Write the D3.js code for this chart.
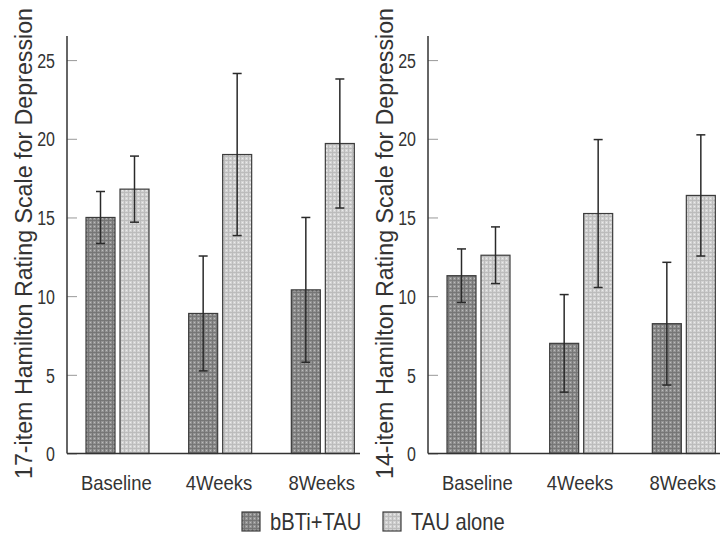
<!DOCTYPE html>
<html><head><meta charset="utf-8">
<script src="https://cdn.jsdelivr.net/npm/d3@7"></script>
<style>
html,body{margin:0;padding:0;background:#fff;}
svg{display:block;}
text{font-family:"Liberation Sans",Arial,sans-serif;fill:#333;}
</style></head>
<body><svg id="c" width="720" height="534"></svg>
<script>
const categories = ["Baseline", "4Weeks", "8Weeks"];
const seriesNames = ["bBTi+TAU", "TAU alone"];
const yTicks = [0, 5, 10, 15, 20, 25];
const panelTitles = ["17-item Hamilton Rating Scale for Depression", "14-item Hamilton Rating Scale for Depression"];
// HAMD-17
const hamd17_bBTi = [15.0, 8.9, 10.4];
const hamd17_bBTi_sd = [1.65, 3.65, 4.6];
const hamd17_TAU = [16.8, 19.0, 19.7];
const hamd17_TAU_sd = [2.1, 5.15, 4.1];
// HAMD-14
const hamd14_bBTi = [11.3, 7.0, 8.25];
const hamd14_bBTi_sd = [1.7, 3.1, 3.9];
const hamd14_TAU = [12.6, 15.25, 16.4];
const hamd14_TAU_sd = [1.8, 4.7, 3.85];

const panels = [
  {title: panelTitles[0], vals: [hamd17_bBTi, hamd17_TAU], sds: [hamd17_bBTi_sd, hamd17_TAU_sd], axisX: 67, lineEnd: 360, titleX: 32},
  {title: panelTitles[1], vals: [hamd14_bBTi, hamd14_TAU], sds: [hamd14_bBTi_sd, hamd14_TAU_sd], axisX: 428, lineEnd: 720, titleX: 393}
];

const svg = d3.select("#c");
const defs = svg.append("defs");
function makePattern(id, base, grid, dot){
  const p = defs.append("pattern").attr("id", id).attr("patternUnits", "userSpaceOnUse").attr("width", 4).attr("height", 4);
  p.append("rect").attr("width", 4).attr("height", 4).attr("fill", base);
  p.append("rect").attr("x", 0).attr("y", 0).attr("width", 1).attr("height", 4).attr("fill", grid);
  p.append("rect").attr("x", 0).attr("y", 0).attr("width", 4).attr("height", 1).attr("fill", grid);
  p.append("rect").attr("x", 2).attr("y", 2).attr("width", 1).attr("height", 1).attr("fill", dot);
}
makePattern("pA", "#939393", "#767676", "#bdbdbd");
makePattern("pB", "#d3d3d3", "#bcbcbc", "#ececec");
const fills = ["url(#pA)", "url(#pB)"];

function narrow(sel, factor){
  sel.each(function(){
    const w = this.getComputedTextLength();
    d3.select(this).attr("textLength", w * factor).attr("lengthAdjust", "spacingAndGlyphs");
  });
}

const yScale = d3.scaleLinear().domain([0, 26.5]).range([453.5, 36.5]);

panels.forEach(pn => {
  const g = svg.append("g");
  const x0 = d3.scaleBand().domain(categories).range([pn.axisX, pn.axisX + 308]).padding(0);
  const x1 = d3.scaleBand().domain(seriesNames).range([19, 82]).paddingInner(0.147).paddingOuter(0);

  categories.forEach((c, ci) => {
    seriesNames.forEach((s, si) => {
      const v = pn.vals[si][ci], sd = pn.sds[si][ci];
      const bx = x0(c) + x1(s);
      g.append("rect").attr("x", bx).attr("y", yScale(v)).attr("width", x1.bandwidth()).attr("height", yScale(0) - yScale(v))
        .attr("fill", fills[si]).attr("stroke", "#3c3c3c").attr("stroke-width", 1.2);
      const cx = bx + x1.bandwidth() / 2;
      const eb = g.append("g").attr("stroke", "#2a2a2a").attr("stroke-width", 1.5);
      eb.append("line").attr("x1", cx).attr("x2", cx).attr("y1", yScale(v + sd)).attr("y2", yScale(v - sd));
      eb.append("line").attr("x1", cx - 4.5).attr("x2", cx + 4.5).attr("y1", yScale(v + sd)).attr("y2", yScale(v + sd));
      eb.append("line").attr("x1", cx - 4.5).attr("x2", cx + 4.5).attr("y1", yScale(v - sd)).attr("y2", yScale(v - sd));
    });
  });

  // y axis
  const ya = d3.axisLeft(yScale).tickValues(yTicks).tickSize(-10).tickPadding(22).tickFormat(d3.format("d"));
  const yg = g.append("g").attr("transform", `translate(${pn.axisX},0)`).call(ya);
  yg.select(".domain").remove();
  yg.selectAll(".tick line").attr("stroke", "#999").attr("stroke-width", 1);
  const yt = yg.selectAll(".tick text").attr("font-size", 20).attr("fill", "#333").attr("font-family", null)
    .attr("x", -12).attr("dy", "0.36em");
  narrow(yt, 0.8);
  g.append("line").attr("x1", pn.axisX).attr("x2", pn.axisX).attr("y1", 36).attr("y2", yScale(0)).attr("stroke", "#333").attr("stroke-width", 1.5);
  g.append("line").attr("x1", pn.axisX).attr("x2", pn.lineEnd).attr("y1", yScale(0)).attr("y2", yScale(0)).attr("stroke", "#333").attr("stroke-width", 1.5);

  // x labels
  const xa = d3.axisBottom(x0).tickSize(0).tickPadding(0);
  const xg = g.append("g").attr("transform", `translate(-2,${yScale(0)})`).call(xa);
  xg.select(".domain").remove();
  const xt = xg.selectAll(".tick text").attr("font-size", 21).attr("fill", "#333").attr("font-family", null)
    .attr("dy", 0).attr("y", 36);
  narrow(xt, 0.88);

  // title
  g.append("text").attr("transform", `translate(${pn.titleX},243.5) rotate(-90)`).attr("text-anchor", "middle")
    .attr("font-size", 23).attr("fill", "#444").attr("textLength", 471).attr("lengthAdjust", "spacingAndGlyphs").text(pn.title);
});

// legend
const legX = [242, 383];
seriesNames.forEach((s, i) => {
  svg.append("rect").attr("x", legX[i]).attr("y", 512).attr("width", 18).attr("height", 19)
    .attr("fill", fills[i]).attr("stroke", "#3c3c3c").attr("stroke-width", 1.2);
  const t = svg.append("text").attr("x", legX[i] + 28).attr("y", 530).attr("font-size", 24).text(s);
  narrow(t, 0.84);
});
</script></body></html>
